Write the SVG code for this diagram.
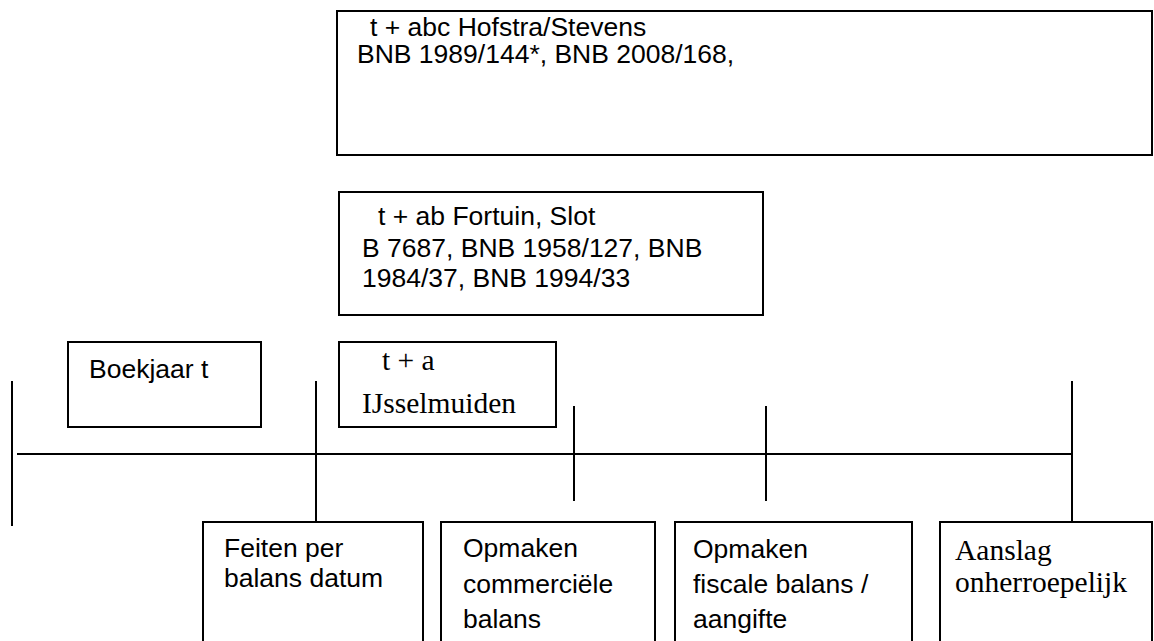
<svg xmlns="http://www.w3.org/2000/svg" width="1154" height="641" viewBox="0 0 1154 641">
<style>
.box{fill:#fff;stroke:#000;stroke-width:2}
.ln{stroke:#000;stroke-width:2;fill:none}
.s{font-family:"Liberation Sans",Arial,sans-serif;font-size:26.5px;fill:#000}
.r{font-family:"Liberation Serif","Times New Roman",serif;font-size:29.5px;fill:#000}
</style>
<rect width="1154" height="641" fill="#fff"/>
<g id="connectors">
<line class="ln" x1="17" y1="454" x2="1072" y2="454"/>
<line class="ln" x1="12" y1="381" x2="12" y2="526"/>
<line class="ln" x1="316" y1="381" x2="316" y2="522"/>
<line class="ln" x1="574" y1="406" x2="574" y2="501"/>
<line class="ln" x1="766" y1="406" x2="766" y2="501"/>
<line class="ln" x1="1072" y1="381" x2="1072" y2="522"/>
</g>
<g id="hofstra">
<rect class="box" x="337" y="11" width="815" height="144"/>
<text class="s" x="370" y="36">t + abc Hofstra/Stevens</text>
<text class="s" x="357" y="63">BNB 1989/144*, BNB 2008/168,</text>
</g>
<g id="fortuin">
<rect class="box" x="339" y="192" width="424" height="123"/>
<text class="s" x="378" y="225">t + ab Fortuin, Slot</text>
<text class="s" x="362" y="257">B 7687, BNB 1958/127, BNB</text>
<text class="s" x="362" y="287">1984/37, BNB 1994/33</text>
</g>
<g id="boekjaar">
<rect class="box" x="68" y="342" width="193" height="85"/>
<text class="s" x="89" y="378">Boekjaar t</text>
</g>
<g id="ijsselmuiden">
<rect class="box" x="339" y="342" width="217" height="85"/>
<text class="r" x="382" y="370">t + a</text>
<text class="r" x="362" y="413">IJsselmuiden</text>
</g>
<g id="feiten">
<rect class="box" x="203" y="522" width="220" height="140"/>
<text class="s" x="224" y="557">Feiten per</text>
<text class="s" x="224" y="587">balans datum</text>
</g>
<g id="commercieel">
<rect class="box" x="441" y="522" width="214" height="140"/>
<text class="s" x="463" y="557">Opmaken</text>
<text class="s" x="463" y="593">commerciële</text>
<text class="s" x="463" y="628">balans</text>
</g>
<g id="fiscaal">
<rect class="box" x="675" y="522" width="237" height="140"/>
<text class="s" x="693" y="558">Opmaken</text>
<text class="s" x="693" y="593">fiscale balans /</text>
<text class="s" x="693" y="628">aangifte</text>
</g>
<g id="aanslag">
<rect class="box" x="940" y="522" width="212" height="140"/>
<text class="r" x="955" y="560">Aanslag</text>
<text class="r" x="955" y="592">onherroepelijk</text>
</g>
</svg>
